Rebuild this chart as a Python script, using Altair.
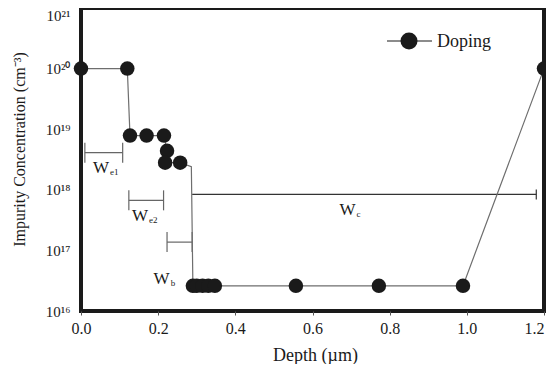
import altair as alt
import pandas as pd

# ---- data ----
line_depth = [0.0, 0.12, 0.127, 0.170, 0.215, 0.223, 0.218, 0.257, 0.286,
              0.29, 0.30, 0.315, 0.33, 0.347, 0.557, 0.772, 0.99, 1.2]
line_conc = [1e20, 1e20, 7.85e18, 7.85e18, 7.85e18, 4.4e18, 2.8e18, 2.8e18, 2.4e18,
             2.6e16, 2.6e16, 2.6e16, 2.6e16, 2.6e16, 2.6e16, 2.6e16, 2.6e16, 1e20]

marker_depth = [0.0, 0.12, 0.127, 0.170, 0.215, 0.223, 0.218, 0.257,
                0.29, 0.30, 0.315, 0.33, 0.347, 0.557, 0.772, 0.99, 1.2]
marker_conc = [1e20, 1e20, 7.85e18, 7.85e18, 7.85e18, 4.4e18, 2.8e18, 2.8e18,
               2.6e16, 2.6e16, 2.6e16, 2.6e16, 2.6e16, 2.6e16, 2.6e16, 2.6e16, 1e20]

bracket_sub = ["e1", "e2", "b", "c"]
bracket_x0 = [0.010, 0.124, 0.223, 0.288]
bracket_x1 = [0.108, 0.214, 0.288, 1.18]
bracket_y = [4.1e18, 6.7e17, 1.37e17, 8.4e17]
label_main = ["W", "W", "W", "W"]
label_x = [0.052, 0.153, 0.209, 0.691]
label_y = [2.3e18, 3.7e17, 3.4e16, 4.7e17]

x_ticks = [0.0, 0.2, 0.4, 0.6, 0.8, 1.0, 1.2]
y_ticks = [1e16, 1e17, 1e18, 1e19, 1e20, 1e21]
y_tick_labels = ["10¹⁶", "10¹⁷", "10¹⁸", "10¹⁹", "10²⁰", "10²¹"]
legend_label = ["Doping"]

SERIF = "Liberation Serif"
INK = "#1a1a1a"

# ---- tables ----
line_df = pd.DataFrame({"i": list(range(len(line_depth))), "depth": line_depth, "conc": line_conc})
marker_df = pd.DataFrame({"depth": marker_depth, "conc": marker_conc})
br_df = pd.DataFrame({"sub": bracket_sub, "x0": bracket_x0, "x1": bracket_x1, "y": bracket_y,
                      "main": label_main, "lx": label_x, "ly": label_y})
tick_rows = []
for s, a, b, yy in zip(bracket_sub, bracket_x0, bracket_x1, bracket_y):
    if s != "c":
        tick_rows.append({"sub": s, "x": a, "y": yy})
    tick_rows.append({"sub": s, "x": b, "y": yy})
tick_df = pd.DataFrame(tick_rows)
legend_df = pd.DataFrame({"label": legend_label})

# ---- scales / axes ----
xscale = alt.Scale(domain=[0, 1.2], nice=False, zero=False)
yscale = alt.Scale(type="log", domain=[1e16, 1e21], nice=False)

label_expr = " : ".join(
    f"datum.value < {v * 3:.0e} ? '{t}'" for v, t in zip(y_ticks[:-1], y_tick_labels[:-1])
) + f" : '{y_tick_labels[-1]}'"

xaxis = alt.Axis(
    values=x_ticks, format=".1f", title="Depth (µm)", grid=False, domain=False,
    ticks=True, tickSize=4, tickColor="#555555", tickWidth=1,
    labelFont=SERIF, labelFontSize=16, labelColor=INK, labelPadding=5, labelFlush=False,
    labelAlign={"condition": {"test": "datum.value >= 1.19", "value": "right"}, "value": "center"},
    titleFont=SERIF, titleFontSize=18, titleFontWeight="normal", titleColor=INK,
    titleX=234, titleY=49, titleBaseline="alphabetic", titleAlign="center",
)
yaxis = alt.Axis(
    values=y_ticks, labelExpr=label_expr, grid=False, domain=False, ticks=False, tickSize=0,
    labelFont=SERIF, labelFontSize=15, labelColor=INK, labelPadding=11, labelFlush=False,
    labelBaseline={"condition": {"test": "datum.value >= 5e20", "value": "top"}, "value": "middle"},
    title="Impurity Concentration (cm⁻³)", titleFont=SERIF, titleFontSize=16,
    titleFontWeight="normal", titleColor=INK, titleX=-57, titleY=141,
    titleAngle=-90, titleBaseline="alphabetic", titleAlign="center",
)


def X(f):
    return alt.X(f, type="quantitative", scale=xscale, axis=xaxis)


def Y(f):
    return alt.Y(f, type="quantitative", scale=yscale, axis=yaxis)


brackets = alt.Chart(br_df).mark_rule(strokeWidth=1.2).encode(
    x=X("x0"), x2="x1", y=Y("y"),
    color=alt.condition("datum.sub == 'c'", alt.value("#333333"), alt.value("#666666")),
)
bracket_ticks = alt.Chart(tick_df).mark_point(
    shape="M0,-1L0,1", filled=False, strokeWidth=1.2, opacity=1
).encode(
    x=X("x"), y=Y("y"),
    size=alt.condition("datum.sub == 'c'", alt.value(100), alt.value(400)),
    color=alt.condition("datum.sub == 'c'", alt.value("#333333"), alt.value("#666666")),
)
profile = alt.Chart(line_df).mark_line(color="#6e6e6e", strokeWidth=1.2).encode(
    x=X("depth"), y=Y("conc"), order="i:Q"
)
markers = alt.Chart(marker_df).mark_point(
    filled=True, size=210, color=INK, opacity=1
).encode(x=X("depth"), y=Y("conc"))
w_main = alt.Chart(br_df).mark_text(
    font=SERIF, fontSize=17, color=INK, align="center", baseline="middle"
).encode(x=X("lx"), y=Y("ly"), text="main:N")
w_sub = alt.Chart(br_df).mark_text(
    font=SERIF, fontSize=9, color=INK, align="left", baseline="middle", dx=9, dy=4
).encode(x=X("lx"), y=Y("ly"), text="sub:N")

leg_line = alt.Chart(legend_df).mark_rule(color=INK, strokeWidth=1.2).encode(
    x=alt.value(306), x2=alt.value(351), y=alt.value(33)
)
leg_point = alt.Chart(legend_df).mark_point(filled=True, size=290, color=INK, opacity=1).encode(
    x=alt.value(328), y=alt.value(33)
)
leg_text = alt.Chart(legend_df).mark_text(
    font=SERIF, fontSize=18, color=INK, align="left", baseline="alphabetic"
).encode(x=alt.value(356), y=alt.value(39), text="label:N")

chart = alt.layer(
    brackets, bracket_ticks, profile, markers, w_main, w_sub, leg_line, leg_point, leg_text
).properties(
    width=463, height=303,
    autosize=alt.AutoSizeParams(type="none"),
    padding={"left": 73, "top": 0, "right": 2, "bottom": 53},
    background="white",
).configure_view(stroke=INK, strokeWidth=4)

chart.save("out.html", embed_options={"renderer": "svg", "actions": False})
